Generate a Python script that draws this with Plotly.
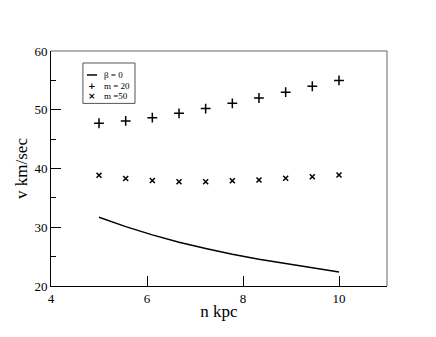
import plotly.graph_objects as go

# radius (kpc) and rotation velocities
n_kpc = [5.0, 5.556, 6.111, 6.667, 7.222, 7.778, 8.333, 8.889, 9.444, 10.0]
v_beta0 = [31.7, 30.1, 28.7, 27.45, 26.4, 25.4, 24.55, 23.8, 23.1, 22.4]
v_m20 = [47.7, 48.1, 48.65, 49.4, 50.2, 51.1, 52.0, 53.0, 54.0, 55.0]
v_m50 = [38.85, 38.3, 37.95, 37.75, 37.75, 37.9, 38.05, 38.35, 38.6, 38.9]

legend_labels = ["β = 0", "m = 20", "m =50"]

serif = "Liberation Serif"

fig = go.Figure()
fig.add_trace(go.Scatter(x=n_kpc, y=v_beta0, mode="lines", name=legend_labels[0],
                         line=dict(color="black", width=1.5)))
fig.add_trace(go.Scatter(x=n_kpc, y=v_m20, mode="markers", name=legend_labels[1],
                         marker=dict(symbol="cross-thin-open", size=7, color="black",
                                     line=dict(color="black", width=1.5))))
fig.add_trace(go.Scatter(x=n_kpc, y=v_m50, mode="markers", name=legend_labels[2],
                         marker=dict(symbol="x-thin-open", size=5, color="black",
                                     line=dict(color="black", width=1.5))))

tickfont = dict(family=serif, size=13, color="black")

fig.update_layout(
    width=428, height=329,
    margin=dict(l=43, r=49, t=43, b=51),
    paper_bgcolor="white", plot_bgcolor="white",
    font=dict(family=serif, color="black", size=13),
    showlegend=False,
    xaxis=dict(range=[4, 11], tickvals=[4, 6, 8, 10], showgrid=False,
               zeroline=False, showline=True, linecolor="black", linewidth=1,
               ticks="inside", ticklen=10, tickcolor="black", tickfont=tickfont,
               title=dict(text="n kpc", font=dict(size=17, family=serif), standoff=0)),
    yaxis=dict(range=[20, 60], tickvals=[20, 30, 40, 50, 60], showgrid=False,
               zeroline=False, showline=True, linecolor="black", linewidth=1,
               ticks="inside", ticklen=10, tickcolor="black", tickfont=tickfont,
               minor=dict(ticks="inside", ticklen=5, dtick=5, tickcolor="black"),
               title=dict(text="v km/sec", font=dict(size=17, family=serif), standoff=2)),
)

# grey frame on top and right
fig.add_shape(type="line", xref="paper", yref="paper", x0=0, x1=1, y0=1, y1=1,
              line=dict(color="#999", width=1.5))
fig.add_shape(type="line", xref="paper", yref="paper", x0=1, x1=1, y0=0, y1=1,
              line=dict(color="#666", width=1))

# compact legend box like the original
fig.add_shape(type="rect", xref="paper", yref="paper", x0=0.095, x1=0.25,
              y0=0.777, y1=0.949, line=dict(color="#555", width=1), fillcolor="white")
rows_y = [0.898, 0.853, 0.810]
fig.add_shape(type="line", xref="paper", yref="paper", x0=0.107, x1=0.137,
              y0=rows_y[0], y1=rows_y[0], line=dict(color="black", width=1.5))
for glyph, yy in zip(["+", "×"], rows_y[1:]):
    fig.add_annotation(xref="paper", yref="paper", x=0.122, y=yy, text="<b>%s</b>" % glyph,
                       showarrow=False, font=dict(size=9, family="DejaVu Sans"),
                       xanchor="center", yanchor="middle", borderpad=0)
for lab, yy in zip(legend_labels, rows_y):
    fig.add_annotation(xref="paper", yref="paper", x=0.155, y=yy, text=lab,
                       showarrow=False, font=dict(size=9, family=serif),
                       xanchor="left", yanchor="middle", borderpad=0)

fig.write_html("out.html")
